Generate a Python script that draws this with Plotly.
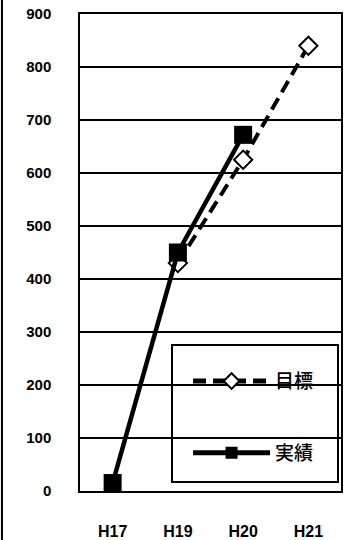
import plotly.graph_objects as go

categories = ["H17", "H19", "H20", "H21"]
target_values = [None, 430, 625, 840]
actual_values = [15, 450, 672, None]
y_ticks = [0, 100, 200, 300, 400, 500, 600, 700, 800, 900]
series_names = ["目標", "実績"]

fig = go.Figure()
fig.add_trace(go.Scatter(
    x=categories, y=target_values, name=series_names[0], mode="lines+markers",
    line=dict(color="black", width=4, dash="13px,7px"),
    marker=dict(symbol="diamond", size=14, color="white", line=dict(color="black", width=2)),
    legendgroup="a", connectgaps=False,
))
fig.add_trace(go.Scatter(
    x=categories, y=actual_values, name=series_names[1], mode="lines+markers",
    line=dict(color="black", width=4.5),
    marker=dict(symbol="square", size=18, color="black", line=dict(color="black", width=0)),
    legendgroup="b",
))

fig.update_layout(
    width=351, height=540,
    margin=dict(l=80, r=10, t=14, b=49, autoexpand=False),
    paper_bgcolor="white", plot_bgcolor="white",
    font=dict(family="Liberation Sans", color="black"),
    showlegend=True,
    legend=dict(
        x=0.414, y=0.27, xanchor="left", yanchor="top",
        borderwidth=0, bgcolor="rgba(0,0,0,0)",
        font=dict(family="Noto Sans CJK JP", size=19, color="black", weight=500),
        tracegroupgap=44, itemwidth=77, itemsizing="constant",
    ),
)
fig.update_xaxes(
    type="category", categoryorder="array", categoryarray=categories,
    range=[-0.5, 3.5],
    showline=True, linecolor="black", linewidth=1.5, mirror=True,
    showgrid=False, ticks="", ticklabelstandoff=25, automargin=False,
    tickfont=dict(family="Liberation Sans", size=16, color="black", weight="bold"),
)
fig.update_yaxes(
    range=[0, 900], tickvals=y_ticks,
    showline=True, linecolor="black", linewidth=1.5, mirror=True,
    showgrid=True, gridcolor="black", gridwidth=1.5, zeroline=False,
    ticks="", ticklabelstandoff=24, automargin=False,
    tickfont=dict(family="Liberation Sans", size=15, color="black", weight="bold"),
)
# legend frame
fig.add_shape(type="rect", xref="paper", yref="paper", x0=0.3525, x1=0.9885, y0=0.019, y1=0.306,
              line=dict(color="black", width=2), fillcolor="white", layer="between")
# scan edge line on the left
fig.add_shape(type="line", xref="paper", yref="paper", x0=-0.299, x1=-0.299, y0=-0.12, y1=1.03,
              line=dict(color="black", width=2))
fig.write_html("out.html", config={"displayModeBar": False},
               post_script="document.body.style.margin='0';document.body.style.padding='0';")
